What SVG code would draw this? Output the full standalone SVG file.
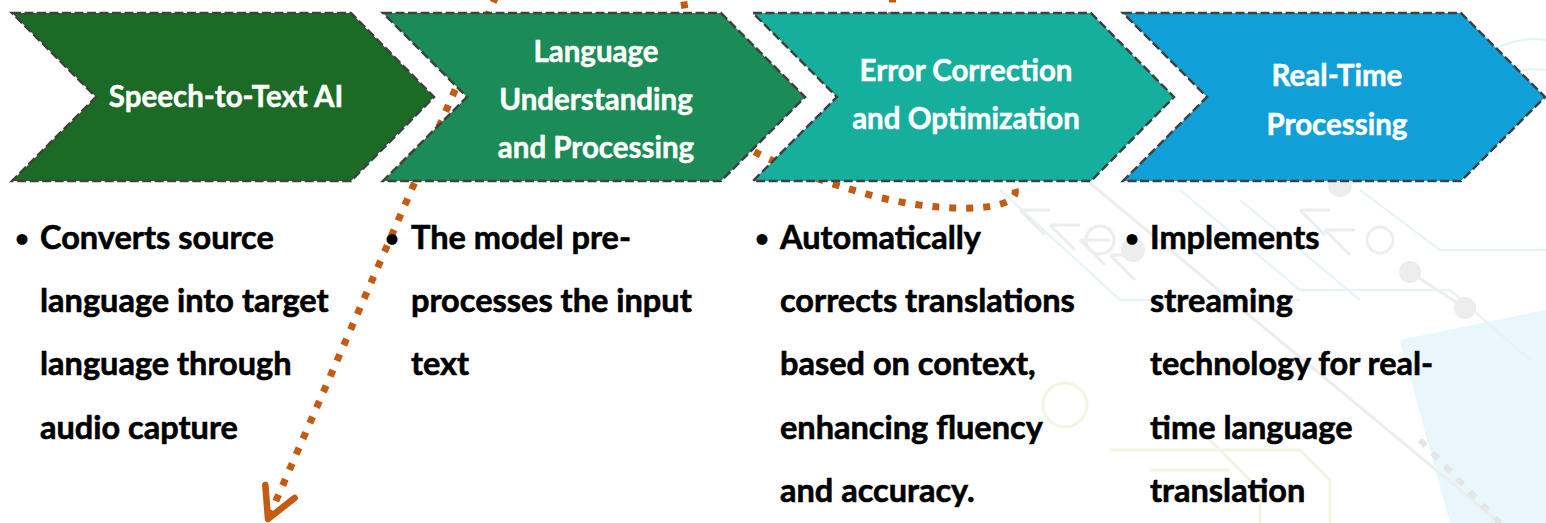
<svg xmlns="http://www.w3.org/2000/svg" width="1546" height="523" viewBox="0 0 1546 523">
  <defs>
    <style>
      .chev { stroke: #404040; stroke-width: 2.5; stroke-dasharray: 9 3.5; }
      .ctitle { font-family: Lato, "Open Sans", sans-serif; font-weight: 700; font-size: 29.5px; fill: #ffffff; stroke: #ffffff; stroke-width: 0.5; text-anchor: middle; }
      .body { font-family: Lato, "Open Sans", sans-serif; font-weight: 700; font-size: 32.5px; fill: #000000; stroke: #000000; stroke-width: 0.6; }
      .bullet { font-family: Lato, "Open Sans", sans-serif; font-weight: 700; font-size: 25px; fill: #000000; text-anchor: middle; }
      .dots { fill: none; stroke: #C55A11; stroke-width: 7; stroke-dasharray: 7 10; }
      .bg-g { fill: none; stroke: #dddddd; stroke-width: 3; }
      .bg-b { fill: none; stroke: #c8e8f3; stroke-width: 2; }
    </style>
    <marker id="openV" markerUnits="userSpaceOnUse" markerWidth="50" markerHeight="50" viewBox="-40 -25 50 50" refX="0" refY="0" orient="auto" overflow="visible">
      <path d="M -30 -16 L 0 0 L -30 16" fill="none" stroke="#C55A11" stroke-width="6.5" stroke-linecap="round" stroke-linejoin="round" stroke-dasharray="none"/>
    </marker>
  </defs>

  <rect width="1546" height="523" fill="#ffffff"/>

  <g id="background" opacity="0.5">
    <polygon points="1400,340 1546,310 1546,523 1450,523" fill="#d4eef8" stroke="none"/>
    <path class="bg-b" d="M 1480 60 A 80 80 0 0 1 1546 40 M 1470 90 A 110 110 0 0 1 1546 70 M 1465 120 A 140 140 0 0 1 1546 100"/>
    <path class="bg-g" d="M 1080 175 L 1500 523" stroke-width="5"/>
    <path class="bg-b" d="M 1000 190 L 1120 300 L 1300 300 M 1180 190 L 1300 290 L 1450 290 L 1530 360 M 1240 200 L 1360 300"/>
    <path class="bg-b" d="M 1360 190 L 1440 250 L 1546 250"/>
    <circle cx="1133" cy="250" r="12" fill="#dcdcdc"/>
    <circle cx="1100" cy="240" r="14" class="bg-g"/>
    <circle cx="1380" cy="240" r="13" class="bg-g"/>
    <circle cx="1340" cy="185" r="12" fill="#dcdcdc"/>
    <circle cx="1410" cy="272" r="11" fill="#dcdcdc"/>
    <circle cx="1465" cy="308" r="11" fill="#dcdcdc"/>
    <path class="bg-g" d="M 1410 272 L 1465 308" stroke-width="4"/>
    <path class="bg-g" d="M 1020 210 l 25 25 m -25 -25 l 30 0 M 1050 225 l 25 25 m -25 -25 l 30 0 M 1080 240 l 25 25 m -25 -25 l 30 0 M 1110 255 l 25 25 m -25 -25 l 30 0" stroke-width="2"/>
    <path class="bg-g" d="M 1300 210 l 25 25 m -25 -25 l 30 0 M 1325 230 l 25 25 m -25 -25 l 30 0" stroke-width="2"/>
    <circle cx="1065" cy="405" r="22" fill="none" stroke="#e6edc4" stroke-width="3"/>
    <path d="M 1110 450 L 1300 450 L 1330 480 L 1330 523 M 1200 430 L 1260 490 L 1260 523 M 1150 470 L 1230 470" fill="none" stroke="#e6edc4" stroke-width="3"/>
    <path d="M 1420 440 L 1500 523" fill="none" stroke="#cccccc" stroke-width="6" stroke-dasharray="8 10"/>
  </g>

  <g id="connectors">
    <path id="conn-arrow" class="dots" d="M 496 -4 L 268 519" marker-end="url(#openV)"/>
    <path id="conn-loop" class="dots" d="M 1015 189 C 1022 214, 930 214, 860 192 C 810 178, 780 165, 755 152 C 715 130, 690 50, 683 -4 C 680 -40, 885 -40, 892 -4 C 895 15, 885 40, 875 60"/>
  </g>

  <g id="node-speech-to-text">
    <polygon class="chev" fill="#1B6B26" points="12,13 351,13 434,97 351,181 12,181 96,97"/>
    <text class="ctitle" x="226" y="107">Speech-to-Text AI</text>
  </g>

  <g id="node-language-understanding">
    <polygon class="chev" fill="#1B8B57" points="383,13 721,13 805,97 721,181 383,181 467,97"/>
    <text class="ctitle" x="596" y="62">Language</text>
    <text class="ctitle" x="596" y="110">Understanding</text>
    <text class="ctitle" x="596" y="158">and Processing</text>
  </g>

  <g id="node-error-correction">
    <polygon class="chev" fill="#16AE9D" points="753,13 1091,13 1174,97 1091,181 753,181 837,97"/>
    <text class="ctitle" x="966" y="81">Error Correction</text>
    <text class="ctitle" x="966" y="129">and Optimization</text>
  </g>

  <g id="node-real-time">
    <polygon class="chev" fill="#109FD7" points="1123,13 1461,13 1545,97 1461,181 1123,181 1207,97"/>
    <text class="ctitle" x="1337" y="86">Real-Time</text>
    <text class="ctitle" x="1337" y="135">Processing</text>
  </g>

  <g id="desc-speech-to-text">
    <text class="bullet" x="22" y="247">•</text>
    <g class="body">
      <text x="40" y="249">Converts source</text>
      <text x="40" y="312">language into target</text>
      <text x="40" y="375">language through</text>
      <text x="40" y="439">audio capture</text>
    </g>
  </g>

  <g id="desc-language-understanding">
    <text class="bullet" x="392" y="247">•</text>
    <g class="body">
      <text x="411" y="249">The model pre-</text>
      <text x="411" y="312">processes the input</text>
      <text x="411" y="375">text</text>
    </g>
  </g>

  <g id="desc-error-correction">
    <text class="bullet" x="762" y="247">•</text>
    <g class="body">
      <text x="780" y="249">Automatically</text>
      <text x="780" y="312">corrects translations</text>
      <text x="780" y="375">based on context,</text>
      <text x="780" y="439">enhancing fluency</text>
      <text x="780" y="502">and accuracy.</text>
    </g>
  </g>

  <g id="desc-real-time">
    <text class="bullet" x="1132" y="247">•</text>
    <g class="body">
      <text x="1150" y="249">Implements</text>
      <text x="1150" y="312">streaming</text>
      <text x="1150" y="375">technology for real-</text>
      <text x="1150" y="439">time language</text>
      <text x="1150" y="502">translation</text>
    </g>
  </g>
</svg>
